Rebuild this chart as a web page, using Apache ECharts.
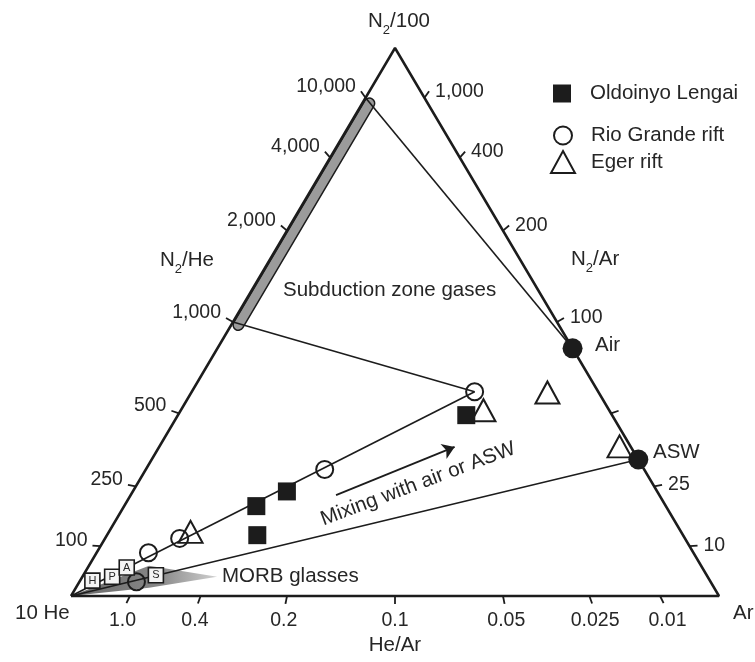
<!DOCTYPE html>
<html><head><meta charset="utf-8">
<script src="https://cdn.jsdelivr.net/npm/echarts@6/dist/echarts.min.js"></script>
<style>html,body{margin:0;padding:0;background:#fff}#c{width:755px;height:662px}</style>
</head><body><div id="c"></div>
<script>
// Ternary components of every sample: [N2/100, 10 He, Ar] (relative %)
const oldoinyoLengai = [[33.0,22.5,44.5],[19.1,57.2,23.8],[16.4,63.2,20.4],[11.1,65.7,23.2]];
const rioGrandeRift = [[37.3,19.1,43.7],[23.1,49.3,27.6],[10.5,77.9,11.5],[7.9,84.1,8.0],[2.6,88.6,8.8]];
const egerRift = [[33.9,19.4,46.7],[37.1,7.9,54.9],[27.3,1.7,71.0],[11.7,75.7,12.6]];
const airPoint = [45.2,0,54.8];
const aswPoint = [24.9,0,75.1];
const morbNames = ['H','P','A','S'];
const morbGlasses = [[2.8,95.3,1.9],[3.5,91.9,4.6],[5.2,88.8,6.0],[3.8,85.0,11.2]];
const morbField = [[0,100,0],[5.5,85.2,9.3],[3.5,75.7,20.8],[1.5,87.2,11.3]];
const mixingArrow = [[18.4,49.9,31.7],[27.2,27.2,45.6]];
const subductionRange = [1000, 10000];          // N2/He
// Axis ticks (ratios along the three edges)
const n2HeTicks = [100,250,500,1000,2000,4000,10000];
const n2HeTickLabels = ['100','250','500','1,000','2,000','4,000','10,000'];
const n2ArTicks = [1000,400,200,100,50,25,10];
const n2ArTickLabels = ['1,000','400','200','100','','25','10'];
const heArTicks = [1.0,0.4,0.2,0.1,0.05,0.025,0.01];
const heArTickLabels = ['1.0','0.4','0.2','0.1','0.05','0.025','0.01'];

const FONT = 'Liberation Sans';
const FS = 20.5;
const INK = '#1c1c1c';
const TXT = '#262626';

function tern(p){ const s=p[0]+p[1]+p[2]; const n=p[0]/s, a=p[2]/s; return [a + n/2, n]; }
function fromN2He(r, ar){ ar = ar||0; return [(1-ar)*r/(r+1000), (1-ar)*1000/(r+1000), ar]; }
function fromN2Ar(r){ return [r/(r+100), 0, 100/(r+100)]; }
function fromHeAr(r){ return [0, 10*r/(1+10*r), 1/(1+10*r)]; }
const V_N2=[1,0,0], V_HE=[0,1,0], V_AR=[0,0,1];

function tickSeries(ticks, labels, conv, opp, side){
  return {
    type:'custom', silent:true, clip:false, z:5,
    data: ticks.map(r => tern(conv(r)).concat(tern(opp))),
    encode:{x:[0,2], y:[1,3]},
    renderItem: function(params, api){
      const p = api.coord([api.value(0), api.value(1)]);
      const v = api.coord([api.value(2), api.value(3)]);
      let dx=p[0]-v[0], dy=p[1]-v[1]; const L=Math.hypot(dx,dy); dx/=L; dy/=L;
      const len = 8;
      const e=[p[0]+dx*len, p[1]+dy*len];
      const ch=[{type:'line', shape:{x1:p[0],y1:p[1],x2:e[0],y2:e[1]}, style:{stroke:INK, lineWidth:1.8}}];
      const t = labels[params.dataIndex];
      if(t){
        let tx,ty,al,va;
        if(side==='left'){tx=e[0]-5; ty=e[1]-5; al='right'; va='middle';}
        else if(side==='right'){tx=e[0]+6; ty=e[1]; al='left'; va='middle';}
        else {tx=e[0]+dx*9; ty=e[1]+7; al='center'; va='top';}
        ch.push({type:'text', style:{text:t, x:tx, y:ty, align:al, textAlign:al, verticalAlign:va, textVerticalAlign:va, fill:TXT, fontSize:19.5, fontFamily:FONT}});
      }
      return {type:'group', children:ch};
    }
  };
}
function lineSeries(pts, width, color, z, cap){
  return {type:'line', silent:true, clip:false, showSymbol:false, symbol:'none', z:z,
    data: pts.map(tern), lineStyle:{width:width, color:color, cap:cap||'butt'}, animation:false};
}
function label(text, x, y, align, rot){
  return {type:'text', x:x, y:y, rotation:(rot||0)*Math.PI/180, style:{text:text, fill:TXT, fontSize:FS, fontFamily:FONT,
    align:align||'left', textAlign:align||'left', verticalAlign:'middle', textVerticalAlign:'middle'}};
}
function subLabel(a, b, x, y, align){
  const base={fontSize:FS, fontFamily:FONT, fill:TXT, color:TXT, padding:[0,0,5,0], verticalAlign:'bottom'};
  return {type:'text', x:x, y:y, style:{text:'{a|'+a+'}{s|2}{a|'+b+'}', align:align, textAlign:align, verticalAlign:'middle', textVerticalAlign:'middle',
    rich:{a:base, s:{fontSize:13, fontFamily:FONT, fill:TXT, color:TXT, verticalAlign:'bottom'}}}};
}

const bandPts = subductionRange.map(r => fromN2He(r, 0.011));
const legendText = pad => ({fontSize:FS, fontFamily:FONT, color:TXT, padding:[0,0,0,pad]});

const option = {
  animation:false,
  backgroundColor:'#fff',
  grid:{left:71, top:48, width:648, height:548},
  xAxis:{type:'value', min:0, max:1, show:false},
  yAxis:{type:'value', min:0, max:1, show:false},
  legend:[
    {data:['Oldoinyo Lengai'], left:553, top:83, padding:0, itemWidth:18, itemHeight:18, textStyle:legendText(14)},
    {data:['Rio Grande rift'], left:553, top:125, padding:0, itemWidth:18, itemHeight:18, textStyle:legendText(14)},
    {data:['Eger rift'], left:550, top:150, padding:0, itemWidth:24, itemHeight:22, textStyle:legendText(11)}
  ],
  series:[
    {type:'custom', silent:true, clip:false, z:1, data:[[0,0]],
     renderItem:function(params, api){
       const pts = morbField.map(p => api.coord(tern(p)));
       return {type:'polygon', shape:{points:pts}, style:{
         fill:new echarts.graphic.LinearGradient(0,0,1,0,[{offset:0,color:'#666'},{offset:0.6,color:'#888'},{offset:1,color:'#d0d0d0'}])}};
     }},
    lineSeries(bandPts, 12, INK, 2, 'round'),
    lineSeries(bandPts, 9, '#9b9b9b', 3, 'round'),
    lineSeries([V_HE, V_N2, V_AR, V_HE], 2.5, INK, 4),
    lineSeries([fromN2He(subductionRange[1]), airPoint], 1.6, INK, 4),
    lineSeries([fromN2He(subductionRange[0]), rioGrandeRift[0]], 1.6, INK, 4),
    lineSeries([V_HE, rioGrandeRift[0]], 1.6, INK, 4),
    lineSeries([V_HE, aswPoint], 1.6, INK, 4),
    {type:'lines', coordinateSystem:'cartesian2d', silent:true, z:4,
     data:[{coords:mixingArrow.map(tern)}], symbol:['none','arrow'], symbolSize:[0,12],
     lineStyle:{color:INK, width:1.8, opacity:1}},
    tickSeries(n2HeTicks, n2HeTickLabels, fromN2He, V_AR, 'left'),
    tickSeries(n2ArTicks, n2ArTickLabels, fromN2Ar, V_HE, 'right'),
    tickSeries(heArTicks, heArTickLabels, fromHeAr, V_N2, 'bottom'),
    {name:'Oldoinyo Lengai', type:'scatter', z:8, symbol:'rect', symbolSize:18,
     data:oldoinyoLengai.map(tern), itemStyle:{color:INK, opacity:1}},
    {name:'Rio Grande rift', type:'scatter', z:7, symbol:'circle', symbolSize:17,
     data:rioGrandeRift.map(tern), itemStyle:{color:'rgba(255,255,255,0)', borderColor:INK, borderWidth:2, opacity:1}},
    {name:'Eger rift', type:'scatter', z:6, symbol:'triangle', symbolSize:[24,22],
     data:egerRift.map(tern), itemStyle:{color:'rgba(255,255,255,0)', borderColor:INK, borderWidth:2, opacity:1}},
    {type:'scatter', z:8, symbol:'circle', symbolSize:20, silent:true,
     data:[airPoint, aswPoint].map(tern), itemStyle:{color:INK, opacity:1}},
    {type:'scatter', z:9, symbol:'rect', symbolSize:15, silent:true,
     data:morbGlasses.map((p,i) => ({value:tern(p), name:morbNames[i]})),
     itemStyle:{color:'#f4f4f4', borderColor:INK, borderWidth:1.6, opacity:1},
     label:{show:true, position:'inside', formatter:'{b}', fontSize:11, fontFamily:FONT, color:TXT}}
  ],
  graphic:[
    subLabel('N','/100', 399, 24, 'center'),
    subLabel('N','/He', 160, 263, 'left'),
    subLabel('N','/Ar', 571, 262, 'left'),
    label('Subduction zone gases', 283, 290),
    label('Air', 595, 345),
    label('ASW', 653, 452),
    label('MORB glasses', 222, 576),
    label('Mixing with air or ASW', 418, 484, 'center', 20.5),
    label('10 He', 15, 613),
    label('Ar', 733, 613),
    label('He/Ar', 395, 645, 'center')
  ]
};
const chart = echarts.init(document.getElementById('c'), null, {renderer:'canvas'});
chart.setOption(option);
</script></body></html>
